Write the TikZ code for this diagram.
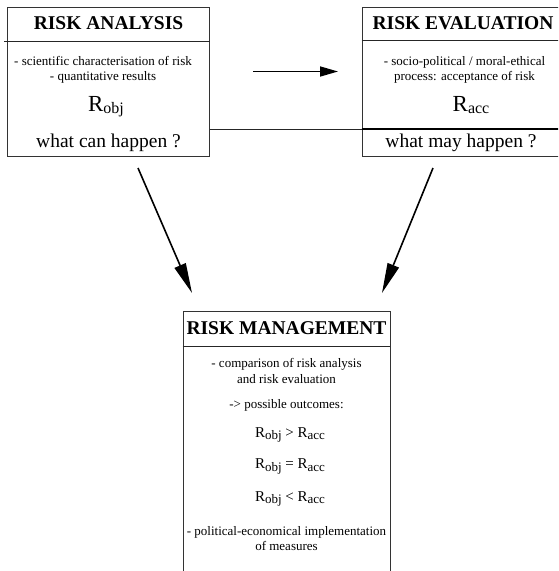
\documentclass[tikz,border=0pt]{standalone}
\usepackage{fontspec}
\setmainfont{Liberation Serif}
\usetikzlibrary{arrows.meta}
\newcommand{\Rsub}[3]{R\raisebox{-#3}{\fontsize{#2}{#2}\selectfont #1}}

\begin{document}
\begin{tikzpicture}[x=1pt, y=-1pt,
  box/.style={draw=black!80, line width=0.8pt, minimum width=202pt, inner sep=0pt},
  rule/.style={draw=black!85, line width=0.8pt},
  arr/.style={line width=1.6pt, -{Triangle[length=30pt, width=12pt]}},
  harr/.style={line width=1.6pt, -{Triangle[length=18pt, width=10pt]}},
  ttl/.style={anchor=base, font=\bfseries\fontsize{19.5}{20}\selectfont},
  txt/.style={anchor=base, font=\fontsize{13}{14}\selectfont},
  big/.style={anchor=base, font=\fontsize{19.5}{20}\selectfont}]
\useasboundingbox (0,0) rectangle (558,571);
\clip (0,0) rectangle (558,571);

% the three boxes
\node[box, minimum height=149pt] (ana) at (108.5,81.5) {};
\node[box, minimum height=149pt] (eva) at (463,81.5) {};
\node[box, minimum width=207pt, minimum height=300pt] (man) at (286.5,461) {};

% dividers
\draw[rule] (4,41.5) -- (ana.east |- 0,41.5);
\draw[rule] (eva.west |- 0,40.5) -- (eva.east |- 0,40.5);
\draw[rule] (ana.east |- 0,129.3) -- (eva.west |- 0,129.3);
\draw[line width=1.8pt] (eva.west |- 0,128.7) -- (eva.east |- 0,128.7);
\draw[rule] (man.west |- 0,346) -- (man.east |- 0,346);

% risk analysis
\node[ttl] (anat) at (108.5,29) {RISK ANALYSIS};
\node[txt] (ana1) at (103,65) {- scientific characterisation of risk};
\node[txt] (ana2) at (103,80.5) {- quantitative results};
\node[big, font=\fontsize{23}{23}\selectfont] (anar) at (106,111) {\Rsub{obj}{16}{2pt}};
\node[big] (anaq) at (108.5,147) {what can happen ?};

% risk evaluation
\node[ttl] (evat) at (463,29) {RISK EVALUATION};
\node[txt] (eva1) at (464.5,65) {- socio-political / moral-ethical};
\node[txt] (eva2) at (464.5,80.5) {process: acceptance of risk};
\node[big, font=\fontsize{23}{23}\selectfont] (evar) at (471,111) {\Rsub{acc}{16}{2pt}};
\node[big] (evaq) at (461,147) {what may happen ?};

% risk management
\node[ttl] (mant) at (286.5,334) {RISK MANAGEMENT};
\node[txt] (man1) at (286.5,367) {- comparison of risk analysis};
\node[txt] (man2) at (286.5,383) {and risk evaluation};
\node[txt] (man3) at (286.5,408) {-> possible outcomes:};
\node[txt, font=\fontsize{15}{15}\selectfont] (man4) at (290,437) {\Rsub{obj}{13}{2.5pt} > \Rsub{acc}{13}{2.5pt}};
\node[txt, font=\fontsize{15}{15}\selectfont] (man5) at (290,468.5) {\Rsub{obj}{13}{2.5pt} = \Rsub{acc}{13}{2.5pt}};
\node[txt, font=\fontsize{15}{15}\selectfont] (man6) at (290,501) {\Rsub{obj}{13}{2.5pt} < \Rsub{acc}{13}{2.5pt}};
\node[txt] (man7) at (286.5,535) {- political-economical implementation};
\node[txt] (man8) at (286.5,550.5) {of measures};

% arrows
\coordinate (h1) at (253,71.5);
\coordinate (h2) at (338,71.5);
\coordinate (a1) at (138,168);
\coordinate (a2) at (192,293);
\coordinate (b1) at (433,168);
\coordinate (b2) at (382,293);
\draw[harr] (h1) -- (h2);
\draw[arr] (a1) -- (a2);
\draw[arr] (b1) -- (b2);
\end{tikzpicture}
\end{document}
